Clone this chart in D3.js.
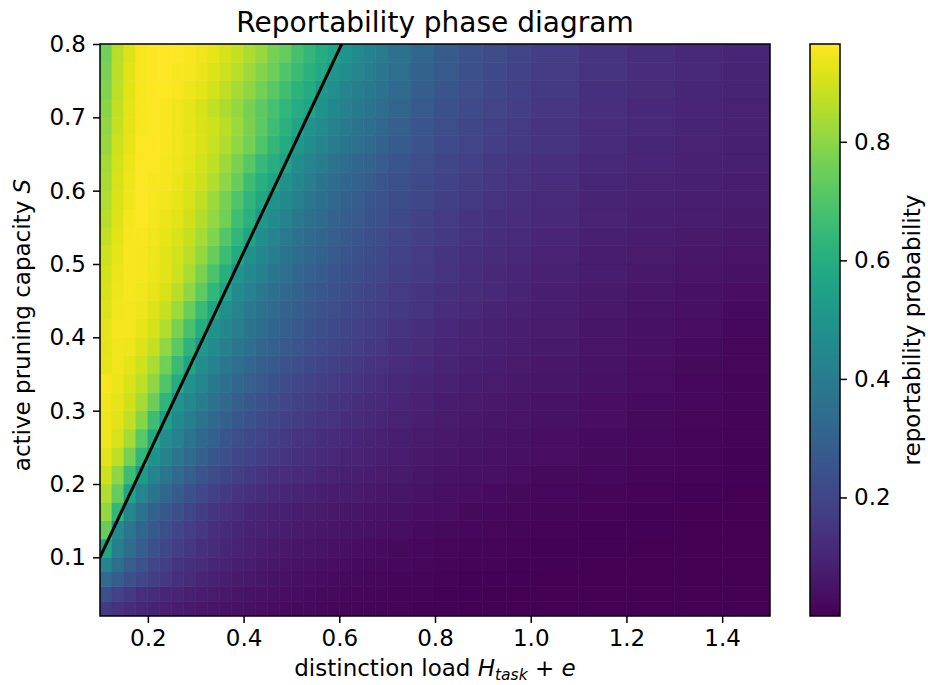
<!DOCTYPE html>
<html><head><meta charset="utf-8">
<script src="https://cdn.jsdelivr.net/npm/d3@7"></script>
<style>body{margin:0;background:#fff} text{font-family:"DejaVu Sans",sans-serif;fill:#000}</style>
</head><body><svg id="c" width="928" height="685"></svg>
<script>
// cell edges: x = distinction load H_task + e, y = active pruning capacity S
const xEdges = [0.10,0.125,0.15,0.175,0.20,0.225,0.25,0.275,0.30,0.325,0.35,0.375,0.40,0.425,0.45,0.475,0.50,0.525,0.55,0.575,0.60,0.625,0.65,0.675,0.70,0.75,0.80,0.85,0.90,0.95,1.00,1.10,1.20,1.30,1.40,1.50];
const yEdges = [0.02,0.04,0.06,0.08,0.10,0.125,0.15,0.175,0.20,0.225,0.25,0.275,0.30,0.325,0.35,0.375,0.40,0.425,0.45,0.475,0.50,0.525,0.55,0.575,0.60,0.625,0.65,0.675,0.70,0.725,0.75,0.775,0.80];
// reportability probability, one row per S band (bottom to top)
const z = [
 [0.16,0.14,0.12,0.105,0.093,0.083,0.074,0.067,0.06,0.054,0.048,0.044,0.039,0.035,0.032,0.028,0.025,0.023,0.02,0.018,0.016,0.014,0.013,0.011,0.009,0.007,0.005,0.003,0.002,0.001,0.001,0,0,0,0],
 [0.23,0.19,0.16,0.135,0.12,0.105,0.095,0.085,0.077,0.068,0.061,0.055,0.049,0.044,0.04,0.035,0.032,0.029,0.026,0.023,0.021,0.018,0.016,0.014,0.011,0.009,0.007,0.005,0.003,0.002,0.001,0,0,0,0],
 [0.33,0.28,0.24,0.205,0.18,0.155,0.132,0.118,0.101,0.089,0.078,0.067,0.061,0.054,0.049,0.044,0.039,0.035,0.032,0.028,0.025,0.023,0.02,0.018,0.015,0.012,0.009,0.007,0.005,0.004,0.003,0.001,0,0,0],
 [0.435,0.347,0.29,0.245,0.205,0.175,0.148,0.132,0.117,0.103,0.091,0.08,0.072,0.064,0.058,0.052,0.047,0.043,0.039,0.035,0.032,0.029,0.026,0.024,0.02,0.016,0.013,0.01,0.008,0.006,0.004,0.002,0.001,0,0],
 [0.57,0.405,0.34,0.28,0.24,0.205,0.175,0.155,0.135,0.118,0.104,0.092,0.083,0.075,0.067,0.061,0.056,0.051,0.047,0.043,0.039,0.035,0.031,0.028,0.025,0.021,0.018,0.015,0.012,0.009,0.006,0.004,0.002,0.001,0],
 [0.74,0.46,0.375,0.31,0.265,0.23,0.2,0.175,0.151,0.131,0.114,0.102,0.094,0.087,0.081,0.075,0.069,0.064,0.059,0.054,0.05,0.046,0.043,0.04,0.035,0.03,0.025,0.021,0.017,0.014,0.011,0.007,0.004,0.002,0.001],
 [0.81,0.637,0.444,0.365,0.304,0.262,0.23,0.198,0.172,0.148,0.129,0.114,0.103,0.096,0.089,0.083,0.077,0.071,0.067,0.062,0.058,0.054,0.051,0.047,0.042,0.037,0.031,0.026,0.022,0.018,0.014,0.009,0.005,0.003,0.001],
 [0.85,0.733,0.56,0.436,0.373,0.32,0.277,0.241,0.208,0.183,0.163,0.146,0.131,0.12,0.11,0.102,0.096,0.089,0.082,0.077,0.072,0.068,0.064,0.06,0.054,0.046,0.041,0.035,0.03,0.025,0.02,0.014,0.01,0.005,0.002],
 [0.893,0.80,0.665,0.53,0.436,0.378,0.328,0.287,0.251,0.222,0.198,0.18,0.162,0.147,0.134,0.124,0.115,0.106,0.098,0.092,0.086,0.081,0.076,0.071,0.065,0.056,0.049,0.042,0.038,0.033,0.026,0.019,0.014,0.008,0.004],
 [0.92,0.87,0.763,0.632,0.492,0.431,0.376,0.33,0.291,0.258,0.23,0.207,0.189,0.172,0.157,0.144,0.133,0.124,0.115,0.106,0.098,0.092,0.087,0.081,0.073,0.064,0.056,0.049,0.043,0.039,0.033,0.025,0.018,0.012,0.006],
 [0.94,0.907,0.835,0.715,0.58,0.473,0.425,0.372,0.326,0.29,0.257,0.232,0.211,0.193,0.177,0.162,0.148,0.137,0.127,0.118,0.108,0.101,0.095,0.089,0.08,0.07,0.062,0.054,0.047,0.042,0.036,0.028,0.021,0.014,0.008],
 [0.94,0.92,0.873,0.79,0.665,0.54,0.455,0.412,0.367,0.325,0.293,0.262,0.239,0.217,0.2,0.183,0.17,0.157,0.146,0.136,0.126,0.117,0.109,0.102,0.091,0.081,0.071,0.063,0.056,0.05,0.043,0.034,0.025,0.017,0.01],
 [0.945,0.93,0.897,0.835,0.75,0.627,0.50,0.445,0.40,0.36,0.322,0.29,0.261,0.239,0.219,0.201,0.185,0.172,0.16,0.149,0.139,0.128,0.119,0.111,0.099,0.088,0.078,0.07,0.063,0.056,0.046,0.037,0.028,0.019,0.012],
 [0.95,0.938,0.912,0.87,0.80,0.70,0.595,0.487,0.435,0.39,0.352,0.318,0.29,0.265,0.241,0.222,0.206,0.191,0.178,0.166,0.154,0.144,0.133,0.124,0.111,0.097,0.087,0.079,0.071,0.064,0.053,0.042,0.032,0.022,0.014],
 [0.93,0.945,0.925,0.89,0.84,0.757,0.655,0.565,0.468,0.425,0.383,0.345,0.314,0.29,0.267,0.244,0.227,0.21,0.195,0.182,0.17,0.159,0.147,0.136,0.123,0.107,0.095,0.086,0.078,0.071,0.059,0.047,0.037,0.026,0.016],
 [0.925,0.945,0.94,0.915,0.875,0.805,0.72,0.622,0.51,0.458,0.415,0.378,0.345,0.317,0.291,0.27,0.249,0.232,0.217,0.203,0.189,0.177,0.164,0.152,0.135,0.118,0.101,0.092,0.084,0.076,0.065,0.051,0.04,0.029,0.017],
 [0.925,0.95,0.95,0.93,0.90,0.85,0.77,0.685,0.595,0.49,0.445,0.405,0.37,0.34,0.312,0.288,0.267,0.247,0.23,0.214,0.2,0.187,0.175,0.162,0.145,0.125,0.108,0.097,0.089,0.082,0.07,0.055,0.043,0.034,0.022],
 [0.915,0.945,0.95,0.94,0.915,0.88,0.82,0.745,0.655,0.57,0.477,0.435,0.395,0.362,0.33,0.305,0.283,0.262,0.244,0.228,0.212,0.199,0.186,0.175,0.159,0.14,0.124,0.11,0.098,0.089,0.075,0.061,0.048,0.038,0.029],
 [0.905,0.94,0.955,0.945,0.93,0.905,0.865,0.80,0.725,0.637,0.555,0.463,0.425,0.385,0.352,0.325,0.30,0.278,0.259,0.241,0.225,0.21,0.197,0.185,0.169,0.15,0.132,0.118,0.106,0.095,0.082,0.067,0.054,0.044,0.037],
 [0.90,0.935,0.955,0.95,0.935,0.92,0.89,0.84,0.77,0.69,0.61,0.50,0.455,0.415,0.38,0.347,0.32,0.295,0.275,0.256,0.238,0.224,0.209,0.197,0.179,0.159,0.141,0.125,0.113,0.101,0.087,0.072,0.061,0.051,0.043],
 [0.89,0.93,0.955,0.95,0.94,0.92,0.90,0.865,0.81,0.74,0.66,0.585,0.487,0.445,0.405,0.372,0.34,0.315,0.292,0.273,0.256,0.24,0.224,0.21,0.191,0.169,0.15,0.133,0.12,0.108,0.094,0.079,0.068,0.059,0.051],
 [0.875,0.92,0.955,0.955,0.945,0.93,0.91,0.88,0.835,0.78,0.705,0.632,0.565,0.473,0.435,0.395,0.362,0.333,0.31,0.287,0.268,0.251,0.235,0.22,0.2,0.179,0.159,0.142,0.127,0.116,0.1,0.085,0.074,0.066,0.058],
 [0.86,0.915,0.95,0.96,0.95,0.935,0.92,0.895,0.855,0.81,0.755,0.67,0.613,0.51,0.463,0.425,0.385,0.352,0.328,0.304,0.285,0.265,0.248,0.232,0.212,0.188,0.169,0.15,0.135,0.124,0.108,0.092,0.081,0.073,0.066],
 [0.85,0.91,0.945,0.96,0.955,0.945,0.93,0.905,0.87,0.825,0.765,0.695,0.627,0.575,0.497,0.455,0.415,0.38,0.347,0.323,0.30,0.28,0.26,0.244,0.224,0.20,0.179,0.159,0.143,0.13,0.114,0.097,0.087,0.08,0.074],
 [0.84,0.905,0.94,0.96,0.955,0.95,0.935,0.915,0.89,0.85,0.80,0.74,0.665,0.61,0.565,0.483,0.445,0.405,0.372,0.343,0.318,0.30,0.28,0.26,0.238,0.212,0.19,0.171,0.152,0.137,0.121,0.102,0.093,0.085,0.079],
 [0.83,0.90,0.935,0.96,0.96,0.95,0.94,0.925,0.90,0.87,0.825,0.77,0.71,0.645,0.60,0.555,0.473,0.435,0.40,0.372,0.343,0.318,0.30,0.28,0.256,0.227,0.203,0.183,0.164,0.15,0.13,0.112,0.099,0.09,0.083],
 [0.815,0.89,0.93,0.96,0.965,0.955,0.945,0.93,0.91,0.885,0.85,0.805,0.76,0.70,0.64,0.59,0.51,0.473,0.435,0.40,0.372,0.347,0.328,0.304,0.275,0.244,0.218,0.196,0.176,0.159,0.14,0.119,0.104,0.094,0.086],
 [0.805,0.88,0.925,0.955,0.96,0.955,0.945,0.93,0.91,0.89,0.86,0.82,0.77,0.725,0.665,0.615,0.57,0.497,0.46,0.425,0.395,0.367,0.347,0.323,0.29,0.256,0.228,0.205,0.183,0.166,0.145,0.123,0.107,0.097,0.089],
 [0.795,0.875,0.925,0.955,0.96,0.955,0.945,0.93,0.905,0.875,0.845,0.81,0.765,0.725,0.68,0.63,0.595,0.565,0.487,0.45,0.415,0.39,0.367,0.343,0.31,0.27,0.241,0.217,0.195,0.174,0.152,0.129,0.113,0.101,0.092],
 [0.78,0.87,0.92,0.955,0.965,0.96,0.955,0.94,0.925,0.90,0.87,0.835,0.80,0.76,0.715,0.67,0.62,0.59,0.515,0.477,0.44,0.41,0.385,0.362,0.328,0.285,0.256,0.227,0.205,0.183,0.159,0.135,0.118,0.104,0.096],
 [0.77,0.865,0.92,0.955,0.965,0.965,0.955,0.95,0.935,0.915,0.89,0.86,0.825,0.785,0.75,0.70,0.655,0.615,0.58,0.505,0.47,0.435,0.405,0.38,0.347,0.30,0.265,0.236,0.212,0.19,0.166,0.14,0.122,0.108,0.098],
 [0.76,0.86,0.915,0.955,0.965,0.965,0.965,0.955,0.945,0.93,0.905,0.88,0.845,0.815,0.765,0.735,0.68,0.64,0.595,0.57,0.50,0.46,0.425,0.40,0.365,0.315,0.275,0.245,0.222,0.198,0.174,0.145,0.125,0.111,0.101]
];
const xTicks = [0.2,0.4,0.6,0.8,1.0,1.2,1.4];
const yTicks = [0.1,0.2,0.3,0.4,0.5,0.6,0.7,0.8];
const cbarTicks = [0.2,0.4,0.6,0.8];
const boundaryH = [0.1, 0.605];
const boundaryS = [0.1, 0.8];

const svg = d3.select('#c');
const x = d3.scaleLinear().domain([0.1,1.5]).range([100,770]);
const y = d3.scaleLinear().domain([0.02,0.8]).range([616,44]);
const ext = d3.extent(z.flat());
const color = d3.scaleSequential(d3.interpolateViridis).domain(ext);

svg.append('clipPath').attr('id','clip').append('rect')
  .attr('x',100).attr('y',44).attr('width',670).attr('height',572);

const cells = [];
z.forEach((row,i)=>row.forEach((v,j)=>cells.push({i,j,v})));
svg.append('g').attr('clip-path','url(#clip)').selectAll('rect').data(cells).join('rect')
  .attr('x',d=>x(xEdges[d.j]))
  .attr('y',d=>y(yEdges[d.i+1]))
  .attr('width',d=>x(xEdges[d.j+1])-x(xEdges[d.j]))
  .attr('height',d=>y(yEdges[d.i])-y(yEdges[d.i+1]))
  .attr('fill',d=>color(d.v)).attr('stroke',d=>color(d.v)).attr('stroke-width',0.6);

// boundary line
svg.append('g').attr('clip-path','url(#clip)').append('path')
  .attr('d',d3.line()(boundaryH.map((h,k)=>[x(h),y(boundaryS[k])])))
  .attr('stroke','#000').attr('stroke-width',3).attr('fill','none');

// frame
svg.append('rect').attr('x',100).attr('y',44).attr('width',670).attr('height',572)
  .attr('fill','none').attr('stroke','#000').attr('stroke-width',1.5);

const fs = 23;
const xa = svg.append('g').attr('transform','translate(0,616)')
  .call(d3.axisBottom(x).tickValues(xTicks).tickFormat(d3.format('.1f')).tickSize(7).tickPadding(7));
const ya = svg.append('g').attr('transform','translate(100,0)')
  .call(d3.axisLeft(y).tickValues(yTicks).tickFormat(d3.format('.1f')).tickSize(7).tickPadding(7));
[xa,ya].forEach(g=>{
  g.select('.domain').remove();
  g.selectAll('.tick line').attr('stroke','#000').attr('stroke-width',1.5);
  g.selectAll('.tick text').attr('font-size',fs).attr('font-family','DejaVu Sans').attr('fill','#000');
});

// title
svg.append('text').attr('x',435).attr('y',32).attr('text-anchor','middle')
  .attr('font-size',28).text('Reportability phase diagram');

// x label
const xl = svg.append('text').attr('x',435).attr('y',676).attr('text-anchor','middle').attr('font-size',fs);
xl.append('tspan').text('distinction load ');
xl.append('tspan').attr('font-style','italic').text('H');
xl.append('tspan').attr('font-style','italic').attr('font-size',15.5).attr('dy',4).text('task');
xl.append('tspan').attr('dy',-4).text(' + ');
xl.append('tspan').attr('font-style','italic').text('e');

// y label
const yl = svg.append('text').attr('transform','translate(30,325) rotate(-90)').attr('text-anchor','middle').attr('font-size',fs);
yl.append('tspan').text('active pruning capacity ');
yl.append('tspan').attr('font-style','italic').text('S');

// colorbar
const cb = {x:810, w:30};
const cy = d3.scaleLinear().domain(ext).range([616,44]);
const grad = svg.append('defs').append('linearGradient').attr('id','vir')
  .attr('x1',0).attr('y1',1).attr('x2',0).attr('y2',0);
d3.range(0,1.0001,0.02).forEach(t=>grad.append('stop').attr('offset',t)
  .attr('stop-color',color(ext[0]+t*(ext[1]-ext[0]))));
svg.append('rect').attr('x',cb.x).attr('y',44).attr('width',cb.w).attr('height',572)
  .attr('fill','url(#vir)').attr('stroke','#000').attr('stroke-width',1.5);
const ca = svg.append('g').attr('transform',`translate(${cb.x+cb.w},0)`)
  .call(d3.axisRight(cy).tickValues(cbarTicks).tickFormat(d3.format('.1f')).tickSize(7).tickPadding(7));
ca.select('.domain').remove();
ca.selectAll('.tick line').attr('stroke','#000').attr('stroke-width',1.5);
ca.selectAll('.tick text').attr('font-size',fs).attr('font-family','DejaVu Sans').attr('fill','#000');
svg.append('text').attr('transform','translate(920,330) rotate(-90)').attr('text-anchor','middle')
  .attr('font-size',fs).text('reportability probability');
</script></body></html>
